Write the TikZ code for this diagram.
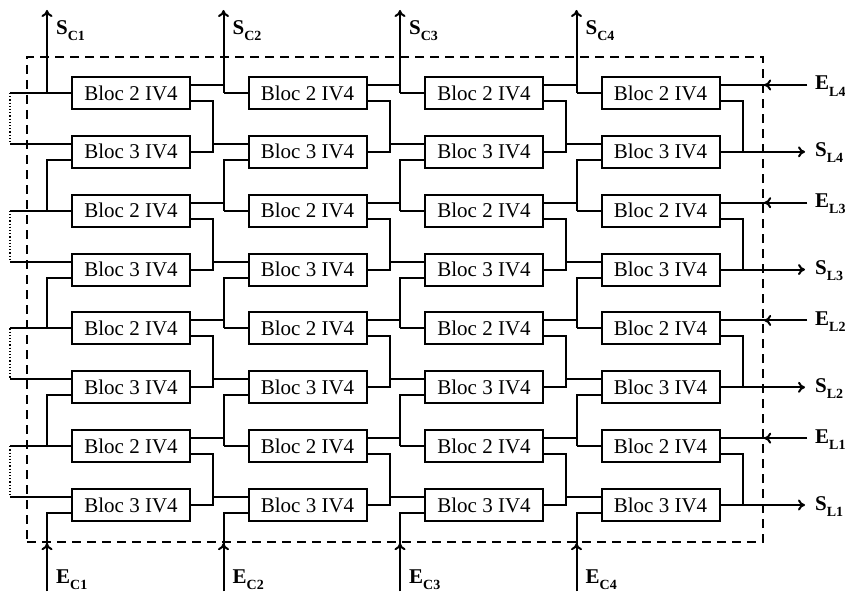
\documentclass[tikz,border=0pt]{standalone}
\usepackage{fontspec}
\setmainfont{Liberation Serif}
\usetikzlibrary{arrows.meta,positioning,calc}
\newcommand{\sig}[2]{\textbf{#1}\raisebox{-6pt}{\fontsize{14}{14}\selectfont\bfseries #2}}

\begin{document}
\begin{tikzpicture}[x=1pt, y=-1pt,
      bloc/.style={rectangle, draw=black, line width=2pt, fill=white,
                   minimum width=118pt, minimum height=32pt, inner sep=0pt,
                   font=\fontsize{21}{24}\selectfont},
      wire/.style={line width=2pt},
      arrow/.style={wire, -{To[length=7pt,width=11pt]}},
      loopback/.style={line width=1.2pt, dotted},
      dashframe/.style={rectangle, draw=black, dash pattern=on 9pt off 6pt,
                        line width=2.4pt, minimum width=736pt,
                        minimum height=485pt},
      siglabel/.style={font=\fontsize{21}{24}\selectfont, anchor=base west,
                       inner sep=0pt},
    ]
      \useasboundingbox (0,0) rectangle (845,591);
      \node[dashframe] (frame) at (395,299.5) {};
      %% Blocks (4 columns x 4 pairs)
      \foreach \k in {1,...,4}{
        \foreach \p in {1,...,4}{
          \pgfmathsetmacro{\cx}{131+176.5*(\k-1)}
          \pgfmathsetmacro{\cu}{93+117.714*(\p-1)}
          \pgfmathsetmacro{\cd}{\cu+58.857}
          \node[bloc] (u\k\p) at (\cx,\cu) {Bloc 2 IV4};
          \node[bloc] (d\k\p) at (\cx,\cd) {Bloc 3 IV4};
          \coordinate (uo\k\p) at ([yshift=8pt]u\k\p.east);
          \coordinate (ul\k\p) at ([yshift=-8pt]u\k\p.east);
          \coordinate (di\k\p) at ([yshift=8pt]d\k\p.west);
          \coordinate (dl\k\p) at ([yshift=-8pt]d\k\p.west);
          \coordinate (lj\k\p) at ([xshift=-24pt]u\k\p.west);
          \coordinate (rj\k\p) at ([xshift=22pt]d\k\p.east);
        }
      }
      %% Wires inside each pair
      \foreach \k in {1,...,4}{
        \foreach \p in {1,...,4}{
          \draw[wire] (lj\k\p) -- (u\k\p.west);
          \draw[wire] (ul\k\p) -| (rj\k\p) -- (d\k\p.east);
        }
      }
      %% Column to column
      \foreach \k/\n in {1/2,2/3,3/4}{
        \foreach \p in {1,...,4}{
          \draw[wire] (uo\k\p) -| (lj\n\p);
          \draw[wire] (rj\k\p) |- (di\n\p);
        }
      }
      %% Down a column
      \foreach \k in {1,...,4}{
        \foreach \p/\q in {1/2,2/3,3/4}{
          \draw[wire] (dl\k\p) -| (lj\k\q);
        }
      }
      %% Loop back on the first column
      \foreach \p in {1,...,4}{
        \coordinate (wu\p) at ([xshift=-61pt]u1\p.west);
        \coordinate (wd\p) at ([xshift=-61pt]di1\p);
        \draw[wire] (wu\p) -- (lj1\p);
        \draw[loopback] (wu\p) -- (wd\p);
        \draw[wire] (wd\p) -- (di1\p);
      }
      %% Column outputs and inputs
      \foreach \k in {1,...,4}{
        \coordinate (sc\k) at (lj\k1 |- 0,10);
        \coordinate (ec\k) at (lj\k1 |- 0,591);
        \draw[arrow] (lj\k1) -- (sc\k);
        \node[siglabel] (lsc\k) at ($(sc\k)+(9,25)$) {\sig{S}{C\k}};
        \draw[wire] (ec\k) |- (dl\k4);
        \draw[arrow] (ec\k) -- (ec\k |- frame.south);
        \node[siglabel] (lec\k) at ($(ec\k)+(9,-8)$) {\sig{E}{C\k}};
      }
      %% Line inputs and outputs
      \foreach \p in {1,...,4}{
        \pgfmathtruncatemacro{\m}{5-\p}
        \coordinate (el\p) at (uo4\p -| 807,0);
        \coordinate (sl\p) at (rj4\p -| 805,0);
        \draw[wire] (el\p) -- (uo4\p);
        \draw[arrow] (el\p) -- (el\p -| frame.east);
        \node[siglabel] (lel\p) at ($(el\p)+(8,5)$) {\sig{E}{L\m}};
        \draw[arrow] (rj4\p) -- (sl\p);
        \node[siglabel] (lsl\p) at ($(sl\p)+(10,5)$) {\sig{S}{L\m}};
      }
    \end{tikzpicture}
\end{document}
